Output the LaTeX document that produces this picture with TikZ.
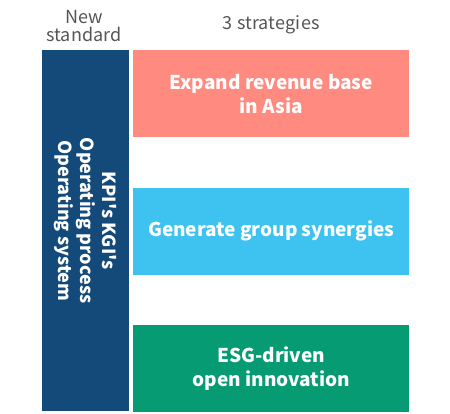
\documentclass[tikz,border=0pt]{standalone}
\usepackage{fontspec}
\setmainfont{Noto Sans CJK JP}
\usetikzlibrary{positioning}
\definecolor{navybar}{HTML}{134A7A}
\definecolor{salmonbox}{HTML}{FF8A80}
\definecolor{skybox}{HTML}{3EC3F0}
\definecolor{jadebox}{HTML}{079B74}
\definecolor{headgray}{HTML}{555555}

\begin{document}
\begin{tikzpicture}[
    x=1pt, y=-1pt,
    node distance=50pt and 4pt,
    strat/.style={minimum width=276pt, minimum height=87pt, inner sep=0pt,
                  align=center, text=white, font=\fontsize{19}{24}\selectfont\bfseries},
    stdbar/.style={fill=navybar, minimum width=87pt, minimum height=361pt, inner sep=0pt},
    headtxt/.style={align=center, text=headgray, inner sep=0pt,
                    font=\fontsize{18}{18}\selectfont\addfontfeatures{LetterSpace=1}}
  ]
    \useasboundingbox (0,0) rectangle (450,413);
    \node[stdbar, anchor=north west] (std) at (42,50) {};
    \node[strat, fill=salmonbox, anchor=north west] (asia) at (133,50) {Expand revenue base\\in Asia};
    \node[strat, fill=skybox, below=of asia] (synergy) {Generate group synergies};
    \node[strat, fill=jadebox, below=of synergy] (esg) {ESG-driven\\open innovation};
    % vertical label in the bar
    \node[rotate=-90, align=center, text=white, font=\fontsize{18}{22}\selectfont\bfseries]
      (kpi) at ([yshift=10pt]std.center) {KPI\textquotesingle s KGI\textquotesingle s\\Operating process\\Operating system};
    % column heads
    \node[headtxt, anchor=base] (newstd) at (84,41) {New\\standard};
    \node[headtxt, anchor=base] (three) at (asia.north |- 0,29) {3 strategies};
\end{tikzpicture}
\end{document}
